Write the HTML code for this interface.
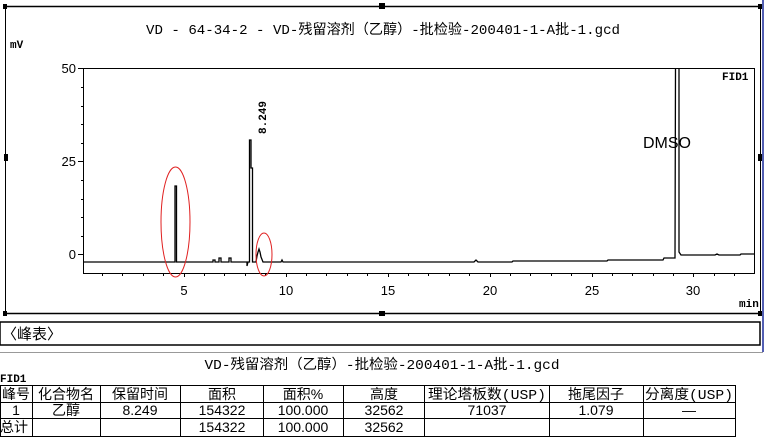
<!DOCTYPE html>
<html><head><meta charset="utf-8"><style>
body{margin:0;background:#fff;width:765px;height:445px;overflow:hidden}
svg{display:block}
text{font-family:"Liberation Sans","Noto Sans CJK SC",sans-serif;fill:#000}
.m{font-family:"Liberation Mono","Noto Sans CJK SC",monospace}
</style></head><body>
<svg width="765" height="445" viewBox="0 0 765 445" xmlns="http://www.w3.org/2000/svg">
<line x1="4" y1="6.5" x2="760" y2="6.5" stroke="#000" stroke-width="1.5"/>
<line x1="5.5" y1="6" x2="5.5" y2="313" stroke="#000"/>
<line x1="760.5" y1="6" x2="760.5" y2="313" stroke="#000"/>
<line x1="4" y1="313.5" x2="760" y2="313.5" stroke="#000" stroke-width="1.5"/>
<line x1="763" y1="0" x2="763" y2="352" stroke="#1a2a9a" stroke-width="1.5"/>
<g fill="#000">
<rect x="3" y="4" width="4" height="5"/><rect x="379" y="3" width="6" height="6"/><rect x="758" y="4" width="4" height="5"/>
<rect x="4" y="154" width="4" height="7"/><rect x="758" y="154" width="4" height="7"/>
<rect x="3" y="311" width="4" height="5"/><rect x="379" y="311" width="6" height="5"/><rect x="758" y="311" width="4" height="5"/>
</g>
<text x="383" y="34" font-size="14" text-anchor="middle" class="m" textLength="474" lengthAdjust="spacingAndGlyphs">VD - 64-34-2 - VD-残留溶剂（乙醇）-批检验-200401-1-A批-1.gcd</text>
<text x="10" y="48" font-size="11" class="m" font-weight="bold">mV</text>
<rect x="83.5" y="68.5" width="671" height="205" fill="none" stroke="#000"/>
<g stroke="#000">
<line x1="78" y1="68.5" x2="83" y2="68.5"/><line x1="78" y1="161.5" x2="83" y2="161.5"/><line x1="78" y1="254.5" x2="83" y2="254.5"/>
<line x1="81" y1="87.5" x2="83" y2="87.5"/><line x1="81" y1="106.5" x2="83" y2="106.5"/><line x1="81" y1="124.5" x2="83" y2="124.5"/><line x1="81" y1="143.5" x2="83" y2="143.5"/>
<line x1="81" y1="180.5" x2="83" y2="180.5"/><line x1="81" y1="199.5" x2="83" y2="199.5"/><line x1="81" y1="217.5" x2="83" y2="217.5"/><line x1="81" y1="236.5" x2="83" y2="236.5"/>
</g>
<text x="76" y="73" font-size="13" text-anchor="end">50</text>
<text x="76" y="166" font-size="13" text-anchor="end">25</text>
<text x="76" y="259" font-size="13" text-anchor="end">0</text>
<g stroke="#000">
<path d="M102.5 273v3M122.5 273v3M143.5 273v3M163.5 273v3M184.5 273v4M204.5 273v3M224.5 273v3M245.5 273v3M265.5 273v3M286.5 273v4M306.5 273v3M326.5 273v3M347.5 273v3M367.5 273v3M388.5 273v4M408.5 273v3M428.5 273v3M449.5 273v3M469.5 273v3M490.5 273v4M510.5 273v3M530.5 273v3M551.5 273v3M571.5 273v3M592.5 273v4M612.5 273v3M632.5 273v3M653.5 273v3M673.5 273v3M693.5 273v4M714.5 273v3M734.5 273v3"/>
</g>
<g font-size="13" text-anchor="middle">
<text x="184" y="295">5</text><text x="286" y="295">10</text><text x="388" y="295">15</text><text x="490" y="295">20</text><text x="592" y="295">25</text><text x="693" y="295">30</text>
</g>
<text x="739" y="307" font-size="11" class="m" font-weight="bold">min</text>
<text x="722" y="80" font-size="11" class="m" font-weight="bold">FID1</text>
<polyline fill="none" stroke="#000" stroke-width="1.3" points="84,262 175,262 175,186 176.5,186 176.5,262 213,262 213,260 215,260 215,262 219,262 219,258 221,258 221,262 229,262 229,258 231,258 231,262 247,262 247,266 248,262 249.5,262 249.5,140 251,140 251,168 252.5,168 252.5,262 256,262 257,256 258,252 259,249 260,252 261,257 263,262 281,262 282,260 283,262 474,262 476,260 478,262 512,262 513,261 607,261 608,260 663,260 664,258 675,258 675.5,68"/>
<polyline fill="none" stroke="#000" stroke-width="1.3" points="679,68 679,252 681,255 700,255 715,255 717,254 719,255 740,255 741,254 754,254"/>
<text transform="translate(266,134) rotate(-90)" font-size="11" class="m" font-weight="bold">8.249</text>
<text x="643" y="148" font-size="16" fill="#222">DMSO</text>
<ellipse cx="175.5" cy="222" rx="14.5" ry="55" fill="none" stroke="#e02020" stroke-width="1"/>
<ellipse cx="264" cy="254.5" rx="8" ry="21.5" fill="none" stroke="#e02020" stroke-width="1"/>
<rect x="0" y="322" width="760" height="23" fill="none" stroke="#000" stroke-width="1.5"/>
<text x="2" y="339" font-size="15">〈峰表〉</text>
<line x1="0" y1="352.5" x2="763" y2="352.5" stroke="#999"/>
<text x="382" y="369" font-size="14" text-anchor="middle" class="m" textLength="355" lengthAdjust="spacingAndGlyphs">VD-残留溶剂（乙醇）-批检验-200401-1-A批-1.gcd</text>
<text x="0" y="382" font-size="11" class="m" font-weight="bold">FID1</text>
<g stroke="#000" fill="none">
<rect x="0.5" y="385.5" width="735" height="51"/>
<path d="M0 402.5H735M0 418.5H735M32.5 385v52M100.5 385v52M180.5 385v52M263.5 385v52M343.5 385v52M424.5 385v52M549.5 385v52M643.5 385v52"/>
</g>
<g font-size="14" text-anchor="middle">
<text x="16" y="399">峰号</text><text x="66" y="399">化合物名</text><text x="140" y="399">保留时间</text><text x="222" y="399">面积</text><text x="303" y="399">面积%</text><text x="384" y="399">高度</text><text x="487" y="399" class="m" textLength="118" lengthAdjust="spacingAndGlyphs">理论塔板数(USP)</text><text x="596" y="399">拖尾因子</text><text x="689" y="399" class="m" textLength="88" lengthAdjust="spacingAndGlyphs">分离度(USP)</text>
<text x="16" y="415">1</text><text x="66" y="415">乙醇</text><text x="140" y="415">8.249</text><text x="222" y="415">154322</text><text x="303" y="415">100.000</text><text x="384" y="415">32562</text><text x="487" y="415">71037</text><text x="596" y="415">1.079</text><text x="689" y="415">—</text>
<text x="14" y="432">总计</text><text x="222" y="432">154322</text><text x="303" y="432">100.000</text><text x="384" y="432">32562</text>
</g>
</svg>
</body></html>
